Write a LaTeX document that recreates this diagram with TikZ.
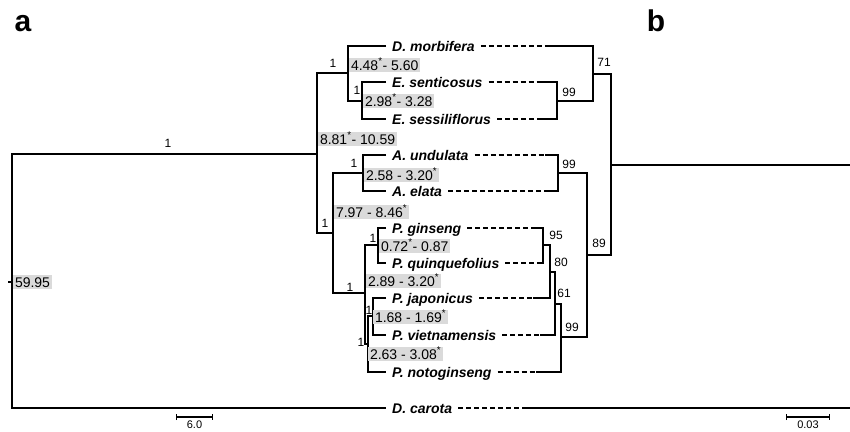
\documentclass[tikz,border=0pt]{standalone}
\usepackage{fontspec}
\setmainfont{Liberation Sans}
\usepackage{tikz}
\usetikzlibrary{positioning, arrows.meta, calc}
\definecolor{agegray}{RGB}{218,218,218}

\begin{document}
\begin{tikzpicture}[x=1pt, y=-1pt,
    branch/.style={line width=1.6pt, line join=miter},
    rbranch/.style={line width=2.4pt, line join=miter},
    link/.style={line width=1.8pt, dash pattern=on 5pt off 3pt},
    taxon/.style={anchor=west, inner xsep=6pt, inner ysep=0pt, text height=10pt, text depth=0pt,
        font=\fontsize{14}{16}\selectfont\bfseries\itshape},
    age/.style={anchor=west, fill=agegray, inner sep=1.8pt, text height=10pt, text depth=0pt,
        font=\fontsize{14}{16}\selectfont},
    support/.style={inner sep=0pt, font=\fontsize{12}{14}\selectfont},
    panel/.style={anchor=base, inner sep=0pt, font=\fontsize{30}{32}\selectfont\bfseries}]
  \useasboundingbox (0,0) rectangle (850,431);

  % Nodes
  \node[panel] (pa) at (23,31) {a};
  \node[panel] (pb) at (656,31) {b};
  \foreach \n/\y/\t in {morb/46/D. morbifera, sent/82/E. senticosus, sess/119/E. sessiliflorus,
      und/155/A. undulata, ela/191/A. elata, gins/228/P. ginseng, quin/263/P. quinquefolius,
      jap/298/P. japonicus, viet/335/P. vietnamensis, noto/372/P. notoginseng, car/408/D. carota}
  \node[taxon] (\n) at (386,\y) {\t};

  % left tree
  \coordinate (stub) at (8,282);
  \coordinate (n0) at (12,282);
  \coordinate (n1) at (317,154);
  \coordinate (n2) at (348,73);
  \coordinate (n3) at (362,101);
  \coordinate (n4) at (333,233);
  \coordinate (n5) at (363,173);
  \coordinate (n6) at (365,293);
  \coordinate (n7) at (378,245);
  \coordinate (n8) at (368,344);
  \coordinate (n9) at (373,316);

  % right tree
  \foreach \n/\x/\y in {morb/547/46, sent/542/82, sess/541/119, und/545/155, ela/545/191,
      gins/536/228, quin/538/263, jap/533/298, viet/540/335, noto/536/372, car/525/408}
  \coordinate (r\n) at (\x,\y);
  \coordinate (r1) at (557,101);
  \coordinate (r2) at (593,74);
  \coordinate (r3) at (558,173);
  \coordinate (r4) at (543,245);
  \coordinate (r5) at (550,272);
  \coordinate (r6) at (555,304);
  \coordinate (r7) at (561,337);
  \coordinate (r8) at (587,255);
  \coordinate (r9) at (611,165);
  \coordinate (rend) at (850,165);
  \coordinate (cend) at (850,408);

  % Branches
  \draw[branch] (sent.west) -| (n3) |- (sess.west);
  \draw[branch] (morb.west) -| (n2) |- (n3);
  \draw[branch] (und.west) -| (n5) |- (ela.west);
  \draw[branch] (gins.west) -| (n7) |- (quin.west);
  \draw[branch] (jap.west) -| (n9) |- (viet.west);
  \draw[branch] (n9) -| (n8) |- (noto.west);
  \draw[branch] (n7) -| (n6) |- (n8);
  \draw[branch] (n5) -| (n4) |- (n6);
  \draw[branch] (n2) -| (n1) |- (n4);
  \draw[branch] (n1) -| (n0) |- (car.west);
  \draw[branch] (stub) -- (n0);

  \draw[rbranch] (rsent) -| (r1) |- (rsess);
  \draw[rbranch] (rmorb) -| (r2) |- (r1);
  \draw[rbranch] (rund) -| (r3) |- (rela);
  \draw[rbranch] (rgins) -| (r4) |- (rquin);
  \draw[rbranch] (r4) -| (r5) |- (rjap);
  \draw[rbranch] (r5) -| (r6) |- (rviet);
  \draw[rbranch] (r6) -| (r7) |- (rnoto);
  \draw[branch] (r3) -| (r8) |- (r7);
  \draw[rbranch] (r2) -| (r9) |- (r8);
  \draw[branch] (r9) -- (rend);
  \draw[rbranch] (rcar) -- (cend);

  % Links
  \foreach \n in {morb, sent, sess, und, ela, gins, quin, jap, viet, noto, car}
  \draw[link] (\n.east) -- (r\n);

  % Ages
  \foreach \n/\x/\y/\t in {a1/13/282/59.95, a2/318/139/{8.81\textsuperscript{*}- 10.59},
      a3/349/65/{4.48\textsuperscript{*}- 5.60}, a4/363/101/{2.98\textsuperscript{*}- 3.28},
      a5/364/175/{2.58 - 3.20\textsuperscript{*}}, a6/334/212/{7.97 - 8.46\textsuperscript{*}},
      a7/379/246/{0.72\textsuperscript{*}- 0.87}, a8/366/281/{2.89 - 3.20\textsuperscript{*}},
      a9/373/317/{1.68 - 1.69\textsuperscript{*}}, a10/368/354/{2.63 - 3.08\textsuperscript{*}}}
  \node[age] (\n) at (\x,\y) {\t};

  % Support
  \foreach \x/\y/\t [count=\i] in {168/143/1, 333/63/1, 357/90/1, 354/163/1, 325/223/1,
      350/287/1, 373/238/1, 369/310/1, 361/342/1,
      604/62/71, 569/92/99, 569/164/99, 556/235/95, 561/262/80, 564/293/61,
      572/327/99, 599/243/89}
  \node[support] (s\i) at (\x,\y) {\t};

  % Scale bars
  \coordinate (la) at (176,417);
  \coordinate (lb) at (213,417);
  \coordinate (ra) at (786,417);
  \coordinate (rb) at (830,417);
  \draw[line width=1.2pt, {Bar[width=6pt]}-{Bar[width=6pt]}] (la) -- (lb);
  \draw[line width=1.2pt, {Bar[width=6pt]}-{Bar[width=6pt]}] (ra) -- (rb);
  \node[support, font=\fontsize{11}{13}\selectfont] (lscale) at ($(la)!0.5!(lb)+(0,8)$) {6.0};
  \node[support, font=\fontsize{11}{13}\selectfont] (rscale) at ($(ra)!0.5!(rb)+(0,8)$) {0.03};
\end{tikzpicture}
\end{document}
